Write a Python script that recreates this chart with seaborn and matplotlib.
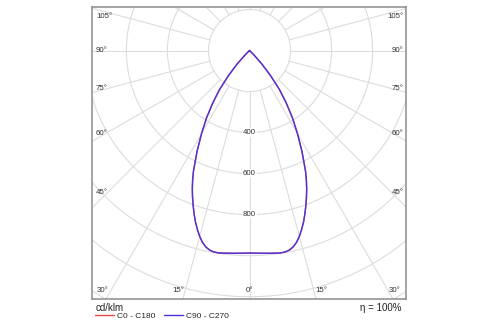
import numpy as np
import pandas as pd
import matplotlib
matplotlib.use("Agg")
import matplotlib.pyplot as plt
import seaborn as sns

# Luminous intensity distribution (cd/klm) against gamma angle from nadir
gamma = [0, 2.5, 5, 7.5, 8.75, 10, 11.25, 12.5, 13.75, 15, 16.25, 17.5,
         18.75, 20, 21.25, 22.5, 23.75, 25, 27.5, 30, 32.5, 35, 37.5, 40,
         42.5, 45, 47.5, 50, 60, 70, 80, 90]
c0_c180 = [987, 989, 992, 996, 998, 997, 992, 981, 963, 938, 908, 876,
           840, 803, 766, 728, 688, 645, 553, 467, 390, 312, 240, 158,
           88, 30, 3, 0, 0, 0, 0, 0]
c90_c270 = [987, 989, 992, 996, 998, 997, 992, 981, 963, 938, 908, 876,
            840, 803, 766, 728, 688, 645, 553, 467, 390, 312, 240, 158,
            88, 30, 3, 0, 0, 0, 0, 0]
planes = ["C0 - C180", "C90 - C270"]
plane_colors = ["#e8474c", "#4a34e0"]

ring_values = [200, 400, 600, 800, 1000, 1200, 1400]
ring_labels = [400, 600, 800]
spoke_step = 15
unit_label = "cd/klm"
efficiency_label = "η = 100%"

# angle labels around the frame: (text, x, y, ha) in cd/klm coordinates
angle_labels = [
    ("105°", -748, 165, "left"), ("90°", -748, 0, "left"),
    ("75°", -748, -185, "left"), ("60°", -748, -403, "left"),
    ("45°", -748, -693, "left"),
    ("105°", 750, 165, "right"), ("90°", 750, 0, "right"),
    ("75°", 750, -185, "right"), ("60°", 750, -403, "right"),
    ("45°", 750, -693, "right"),
    ("30°", -716, -1170, "center"), ("15°", -348, -1170, "center"),
    ("0°", 0, -1170, "center"), ("15°", 348, -1170, "center"),
    ("30°", 709, -1170, "center"),
]

# build the closed curve of each plane pair: negative gamma is the opposite half-plane
rows = []
g = np.asarray(gamma, dtype=float)
for name, vals in zip(planes, [c0_c180, c90_c270]):
    v = np.asarray(vals, dtype=float)
    ang = np.concatenate([-g[::-1], g[1:]])
    inten = np.concatenate([v[::-1], v[1:]])
    t = np.radians(ang)
    for a, i, tt in zip(ang, inten, t):
        rows.append({"plane": name, "gamma": a,
                     "x": i * np.sin(tt), "y": -i * np.cos(tt)})
df = pd.DataFrame(rows)

sns.set_theme(style="white")
plt.rcParams["font.family"] = ["Liberation Sans", "DejaVu Sans"]

fig = plt.figure(figsize=(5.0, 3.25), dpi=100)
ax = fig.add_axes([92 / 500, 26 / 325, 314 / 500, 292 / 325])
ax.set_xlim(-767.5, 762.6)
ax.set_ylim(-1211, 212)

grid_kw = dict(color="#dcdcdc", lw=0.8, zorder=1)
# concentric intensity rings
phi = np.linspace(0, 2 * np.pi, 721)
for r in ring_values:
    ax.plot(r * np.cos(phi), r * np.sin(phi), **grid_kw)
# radial spokes starting at the innermost ring
for a in range(0, 360, spoke_step):
    t = np.radians(a)
    rr = np.array([ring_values[0], 3000])
    ax.plot(rr * np.sin(t), -rr * np.cos(t), **grid_kw)

for v in ring_labels:
    ax.text(0, -v, str(v), ha="center", va="center", fontsize=5.7,
            color="#333333", zorder=2,
            bbox=dict(boxstyle="square,pad=0.12", fc="white", ec="none"))

for txt, x, y, ha in angle_labels:
    ax.text(x, y, txt, ha=ha, va="center", fontsize=5.7, color="#333333",
            zorder=2)

sns.lineplot(data=df, x="x", y="y", hue="plane", palette=plane_colors,
             hue_order=planes, sort=False, estimator=None, lw=1.0, ax=ax,
             zorder=3)

ax.set_xlabel("")
ax.set_ylabel("")
ax.set_xticks([])
ax.set_yticks([])
for s in ax.spines.values():
    s.set_color("#8c8c8c")
    s.set_linewidth(1.1)

sns.move_legend(ax, "center left", bbox_to_anchor=(95 / 500, 9 / 325),
                bbox_transform=fig.transFigure, ncol=2, frameon=False,
                title=None, fontsize=6, handlelength=2.3, handletextpad=0.3,
                columnspacing=1.1, borderpad=0, borderaxespad=0)

fig.text(95.7 / 500, (325 - 308.3) / 325, unit_label, ha="left", va="center",
         fontsize=7, color="#222222")
fig.text(401.7 / 500, (325 - 308.3) / 325, efficiency_label, ha="right",
         va="center", fontsize=7, color="#222222")

fig.savefig("out.png", dpi=100, facecolor="white")
